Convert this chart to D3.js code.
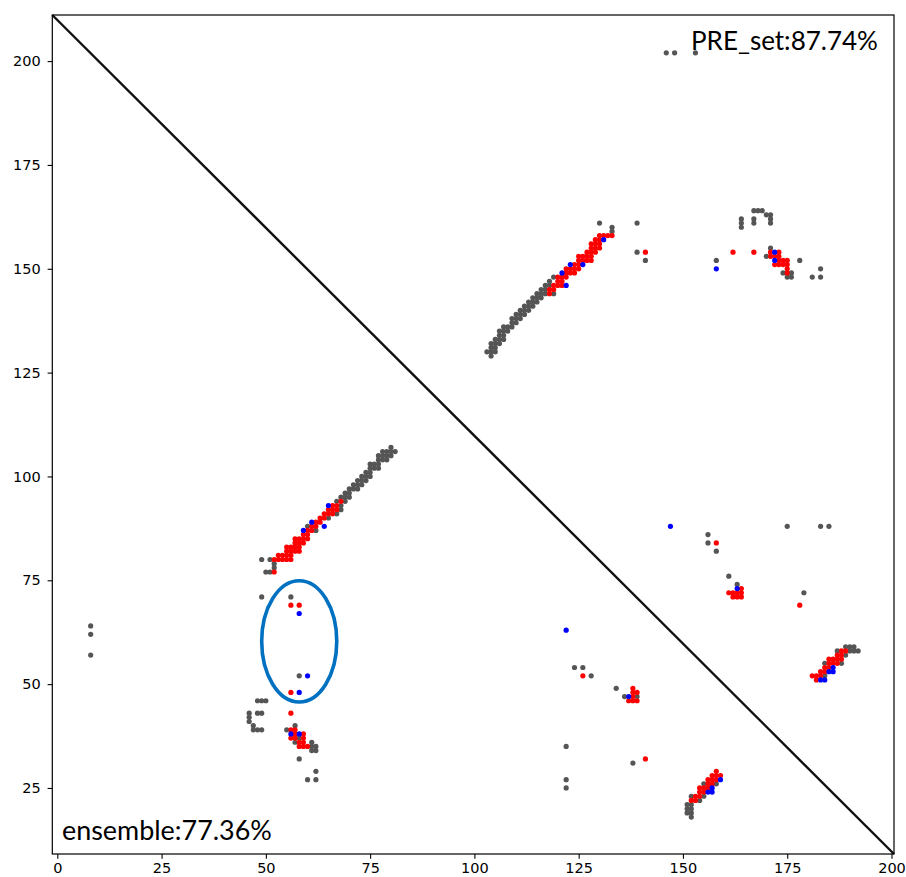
<!DOCTYPE html>
<html>
<head>
<meta charset="utf-8">
<script src="https://cdn.jsdelivr.net/npm/d3@7"></script>
<style>
body { margin: 0; background: #fff; }
.note { font-family: Lato, "Open Sans", sans-serif; fill: #000; }
</style>
</head>
<body>
<svg id="chart" width="906" height="877"></svg>
<script>
// tick values
var xTicks = [0, 25, 50, 75, 100, 125, 150, 175, 200];
var yTicks = [25, 50, 75, 100, 125, 150, 175, 200];

// points as rows: [y, [x, x, ...]]
var greyRows = [
  // far left
  [64, [8]], [62, [8]], [57, [8]],
  // band A
  [107, [80]], [106, [78, 79, 80, 81]], [105, [77, 78, 79, 80]], [104, [77, 78, 79]], [103, [75, 76, 77]],
  [102, [75, 76, 77]], [101, [74, 75]], [100, [73, 74, 75]], [99, [72, 73, 74]], [98, [71, 72, 73]], [97, [70, 71, 72]],
  [96, [69, 70]], [95, [68, 69, 70]], [94, [67, 69]], [93, [68]], [92, [68]], [91, [67]], [90, [65]],
  [88, [60]], [87, [62]],
  [80, [49, 51]], [79, [52]], [78, [52]], [77, [50, 51]], [71, [49, 56]],
  // below A
  [52, [58]], [46, [48, 49, 50]], [43, [46, 48, 49]], [42, [46]], [41, [46]], [40, [47, 57]],
  [39, [47, 48, 49, 55]], [37, [58]], [36, [57, 61]], [35, [61, 62]], [34, [61, 62]], [32, [58]],
  [29, [62]], [27, [60, 62]],
  // band B
  [129, [104]], [130, [103, 104, 105]], [131, [104, 105]], [132, [104, 105, 106]], [133, [105, 106, 107]],
  [134, [106, 107]], [135, [106, 107, 108]], [136, [107, 108, 109]], [137, [109, 110]], [138, [109, 110, 111]],
  [139, [110, 111, 112]], [140, [111, 112, 113]], [141, [112, 113, 114]], [142, [113, 114, 115]],
  [143, [114, 115, 116]], [144, [115, 116, 117, 119]], [145, [116, 117]], [146, [117, 118]], [147, [118]], [148, [119]],
  [159, [133]], [160, [133]], [161, [130, 139]], [154, [139]], [152, [141]],
  // C
  [164, [167, 168, 169]], [163, [170, 171]], [162, [164, 167, 171]], [161, [164, 167, 171]], [160, [164]],
  [155, [171]], [153, [170]], [152, [158, 178]], [150, [183]], [149, [174, 176]], [148, [175, 176, 181, 183]],
  [202, [146, 148, 153]],
  // D
  [88, [175, 183, 185]], [86, [156]], [84, [156]], [82, [158]], [76, [161]], [74, [163]], [72, [179]],
  [59, [189, 190, 191]], [58, [187, 190, 191, 192]], [57, [189]], [55, [184, 188]], [52, [184]],
  // E
  [54, [124, 126]], [52, [128]], [49, [134]], [47, [136, 139]], [35, [122]], [31, [138]], [27, [122]], [25, [122]],
  // F
  [26, [155, 158]], [23, [152, 155]], [22, [154]], [21, [151, 152]], [20, [151, 152]], [19, [151, 152]], [18, [152]]
];

var redRows = [
  // A
  [94, [68]], [93, [66, 67]], [92, [65, 66, 67]], [91, [64, 65, 66]], [90, [63, 64]], [89, [62, 63]],
  [88, [61, 62]], [87, [60, 61]], [86, [59, 60]], [85, [57, 58, 59, 60]], [84, [57, 58, 59]],
  [83, [55, 56, 57, 58]], [82, [55, 56, 57, 58]], [81, [53, 54, 55, 56]], [80, [52, 53, 54, 55, 56]], [77, [52]],
  [69, [56, 58]], [48, [56]], [43, [56]], [39, [56, 57]], [38, [57, 59]], [37, [56, 57, 59]], [36, [58, 59]], [35, [58, 59, 60]],
  // B
  [158, [130, 131, 132, 133]], [157, [129, 130]], [156, [128, 129, 130]], [155, [128, 129, 130]],
  [154, [127, 128, 129, 141]], [153, [125, 126, 127, 128]], [152, [125, 126, 127, 128]], [151, [124, 125]],
  [150, [122, 123, 124, 125]], [149, [122, 123, 124]], [148, [120, 121, 122]], [147, [120, 121]],
  [146, [119, 120, 121]], [145, [118, 119]], [144, [118]],
  // C
  [154, [162, 167, 171, 173]], [153, [171, 172, 173]], [152, [173, 174, 175]], [151, [172, 173, 174, 175]],
  [150, [175]], [149, [175]],
  // D
  [84, [158]], [73, [164]], [72, [161, 162, 163, 164]], [71, [162, 163, 164]], [69, [178]],
  [58, [188, 189]], [57, [187, 188]], [56, [185, 186, 187, 188]], [55, [185, 186, 187]], [54, [184, 185]],
  [53, [183, 184]], [52, [181, 182, 183]], [51, [182]],
  // E
  [52, [126]], [49, [138]], [48, [138, 139]], [47, [138]], [46, [137, 138, 139]], [32, [141]],
  // F
  [29, [158]], [28, [157, 158, 159]], [27, [156, 157, 158]], [26, [156, 157]], [25, [154, 155, 156]],
  [24, [154, 155]], [23, [153, 154]], [22, [152, 153]]
];

var blueRows = [
  [93, [65]], [89, [61]], [88, [64]], [87, [59]], [67, [58]], [52, [60]], [48, [58]], [38, [56, 58]],
  [157, [131]], [151, [123, 126]], [149, [121]], [146, [122]],
  [154, [172]], [152, [172]], [150, [158]],
  [88, [147]], [73, [163]],
  [54, [186]], [53, [185, 186]], [51, [183, 184]],
  [63, [122]], [47, [137]],
  [27, [159]], [25, [157]], [24, [156, 157]]
];

// highlighted ellipse (data units)
var ring = {cx: 58, cy: 60.3, rx: 9, ry: 14.6};

var labels = [
  {text: "PRE_set:87.74%", x: 691, y: 50, w: 187},
  {text: "ensemble:77.36%", x: 62, y: 840, w: 210}
];

function flat(rows) {
  var out = [];
  rows.forEach(function (r) {
    r[1].forEach(function (xv) { out.push([xv, r[0]]); });
  });
  return out;
}

var svg = d3.select("#chart");
var padL = 52.3, padR = 894, padT = 15, padB = 854;

var x = d3.scaleLinear().domain([-1.2, 200.6]).range([padL, padR]);
var y = d3.scaleLinear().domain([9.1, 211.1]).range([padB, padT]);

svg.append("rect").attr("width", 906).attr("height", 877).attr("fill", "#fff");

// axes
var xAxis = svg.append("g")
  .attr("transform", "translate(0," + padB + ")")
  .call(d3.axisBottom(x).tickValues(xTicks).tickSize(4.7).tickPadding(4.3));
var yAxis = svg.append("g")
  .attr("transform", "translate(" + padL + ",0)")
  .call(d3.axisLeft(y).tickValues(yTicks).tickSize(4.7).tickPadding(6.9));
[xAxis, yAxis].forEach(function (g) {
  g.attr("font-family", "DejaVu Sans, sans-serif").attr("font-size", 14.5);
  g.select(".domain").remove();
  g.selectAll(".tick line").attr("stroke", "#000").attr("stroke-width", 1.1);
  g.selectAll(".tick text").attr("fill", "#000");
});

// diagonal
svg.append("line")
  .attr("x1", x(-1.2)).attr("y1", y(211.1))
  .attr("x2", x(200.6)).attr("y2", y(9.1))
  .attr("stroke", "#111").attr("stroke-width", 2.4);

function dots(rows, color) {
  svg.append("g").selectAll("circle")
    .data(flat(rows))
    .enter()
    .append("circle")
    .attr("cx", function (d) { return x(d[0]); })
    .attr("cy", function (d) { return y(d[1]); })
    .attr("r", 2.6)
    .attr("fill", color);
}
dots(greyRows, "#555555");
dots(redRows, "#ff0000");
dots(blueRows, "#0000ff");

// ellipse
svg.append("ellipse")
  .attr("cx", x(ring.cx)).attr("cy", y(ring.cy))
  .attr("rx", x(ring.cx + ring.rx) - x(ring.cx))
  .attr("ry", y(ring.cy - ring.ry) - y(ring.cy))
  .attr("fill", "none")
  .attr("stroke", "#0070c0")
  .attr("stroke-width", 3.6);

// frame
svg.append("rect")
  .attr("x", padL).attr("y", padT)
  .attr("width", padR - padL).attr("height", padB - padT)
  .attr("fill", "none").attr("stroke", "#000").attr("stroke-width", 1.2);

// notes, sized to the width they take in the picture
labels.forEach(function (l) {
  var t = svg.append("text").attr("class", "note")
    .attr("x", l.x).attr("y", l.y)
    .style("font-size", "26px")
    .text(l.text);
  var w = t.node().getComputedTextLength();
  t.style("font-size", (26 * l.w / w).toFixed(2) + "px");
});
</script>
</body>
</html>
